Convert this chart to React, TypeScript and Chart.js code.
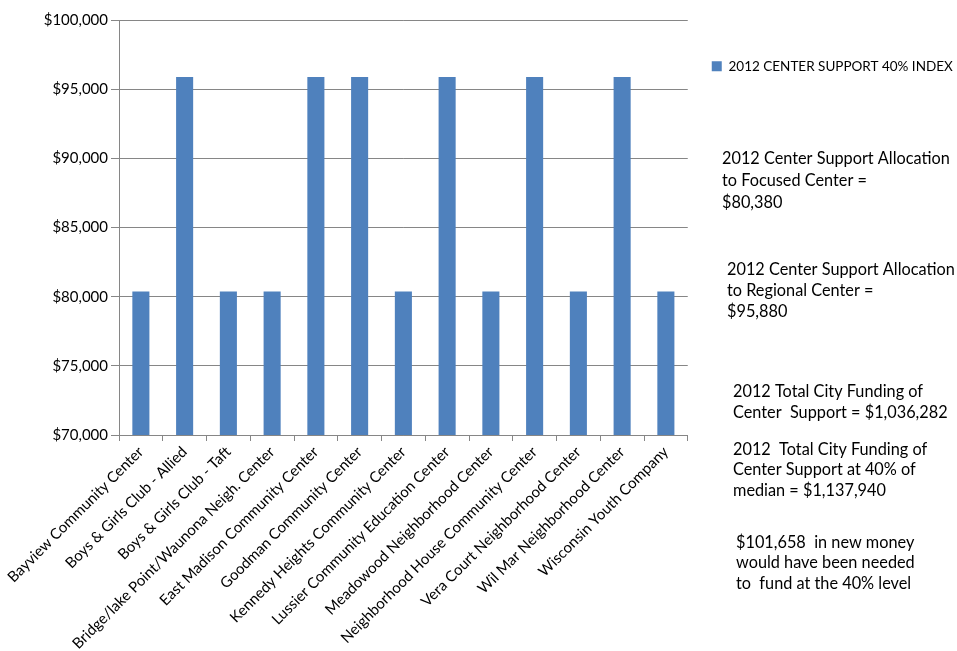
import React, { useEffect, useRef } from "react";
import { Chart, registerables } from "chart.js";

Chart.register(...registerables);

const categories = [
  "Bayview Community Center",
  "Boys & Girls Club - Allied",
  "Boys & Girls Club - Taft",
  "Bridge/lake Point/Waunona Neigh. Center",
  "East Madison Community Center",
  "Goodman Community Center",
  "Kennedy Heights Community Center",
  "Lussier Community Education Center",
  "Meadowood Neighborhood Center",
  "Neighborhood House Community Center",
  "Vera Court Neighborhood Center",
  "Wil Mar Neighborhood Center",
  "Wisconsin Youth Company",
];

const seriesLabel = "2012 CENTER SUPPORT 40% INDEX";
const values = [80380, 95880, 80380, 80380, 95880, 95880, 80380, 95880, 80380, 95880, 80380, 95880, 80380];

const yMin = 70000;
const yMax = 100000;
const yStep = 5000;

const noteBlocks: { x: number; ys: number[]; lines: string[] }[] = [
  { x: 722, ys: [159, 181, 203], lines: ["2012 Center Support Allocation", "to Focused Center =", "$80,380"] },
  { x: 727, ys: [270, 291, 312], lines: ["2012 Center Support Allocation", "to Regional Center =", "$95,880"] },
  { x: 733, ys: [392, 413], lines: ["2012 Total City Funding of", "Center  Support = $1,036,282"] },
  { x: 733, ys: [450, 470, 491], lines: ["2012  Total City Funding of", "Center Support at 40% of", "median = $1,137,940"] },
  { x: 736, ys: [543, 563, 584], lines: ["$101,658  in new money", "would have been needed", "to  fund at the 40% level"] },
];

const FONT = "Lato, 'Open Sans', sans-serif";

export default function App() {
  const ref = useRef<HTMLCanvasElement | null>(null);

  useEffect(() => {
    if (!ref.current) return;
    const notesPlugin = {
      id: "notes",
      afterLayout(chart: any) {
        const lg = chart.legend;
        if (lg) {
          lg.right = chart.width;
          lg.width = lg.right - lg.left;
        }
      },
      afterDraw(chart: any) {
        const ctx = chart.ctx;
        ctx.save();
        ctx.font = `16.3px ${FONT}`;
        ctx.fillStyle = "#000000";
        ctx.textAlign = "left";
        ctx.textBaseline = "middle";
        noteBlocks.forEach((b) => {
          b.lines.forEach((l, i) => ctx.fillText(l, b.x, b.ys[i]));
        });
        ctx.restore();
      },
    };

    const chart = new Chart(ref.current, {
      type: "bar",
      data: {
        labels: categories,
        datasets: [
          {
            label: seriesLabel,
            data: values,
            backgroundColor: "#4F81BD",
            borderColor: "#4F81BD",
            borderWidth: 0,
            categoryPercentage: 1,
            barPercentage: 0.39,
          },
        ],
      },
      options: {
        animation: false,
        responsive: true,
        maintainAspectRatio: false,
        layout: { padding: { top: 20, right: 40, bottom: 0, left: 0 } },
        font: { family: FONT },
        plugins: {
          tooltip: { enabled: false },
          legend: {
            display: true,
            position: "right",
            align: "start",
            title: { display: true, text: " ", padding: { top: 1, bottom: 0 }, font: { size: 12, family: FONT } },
            labels: {
              boxWidth: 10,
              boxHeight: 10,
              padding: 24,
              color: "#000000",
              font: { size: 13.5, family: FONT },
            },
          },
        },
        scales: {
          x: {
            type: "category",
            grid: {
              display: true,
              drawOnChartArea: false,
              drawTicks: true,
              tickLength: 6,
              color: "#868686",
              offset: true,
            },
            border: { display: true, color: "#868686", width: 1 },
            ticks: {
              autoSkip: false,
              maxRotation: 45,
              minRotation: 45,
              color: "#000000",
              font: { size: 15, family: FONT },
              padding: 2,
            },
            afterFit(scale: any) {
              scale.height = 216;
            },
          },
          y: {
            min: yMin,
            max: yMax,
            grid: {
              color: "#868686",
              tickLength: 8,
              drawTicks: true,
            },
            border: { display: true, color: "#868686", width: 1 },
            ticks: {
              stepSize: yStep,
              color: "#000000",
              padding: 3,
              font: { size: 15, family: FONT },
              callback: (v: any) => "$" + Number(v).toLocaleString("en-US"),
            },
            afterFit(scale: any) {
              scale.width = 119;
            },
          },
        },
      },
      plugins: [notesPlugin],
    } as any);
    return () => chart.destroy();
  }, []);

  return (
    <div style={{ position: "fixed", left: 0, top: 0, width: 957, height: 651, background: "#ffffff" }}>
      <canvas ref={ref} />
    </div>
  );
}
